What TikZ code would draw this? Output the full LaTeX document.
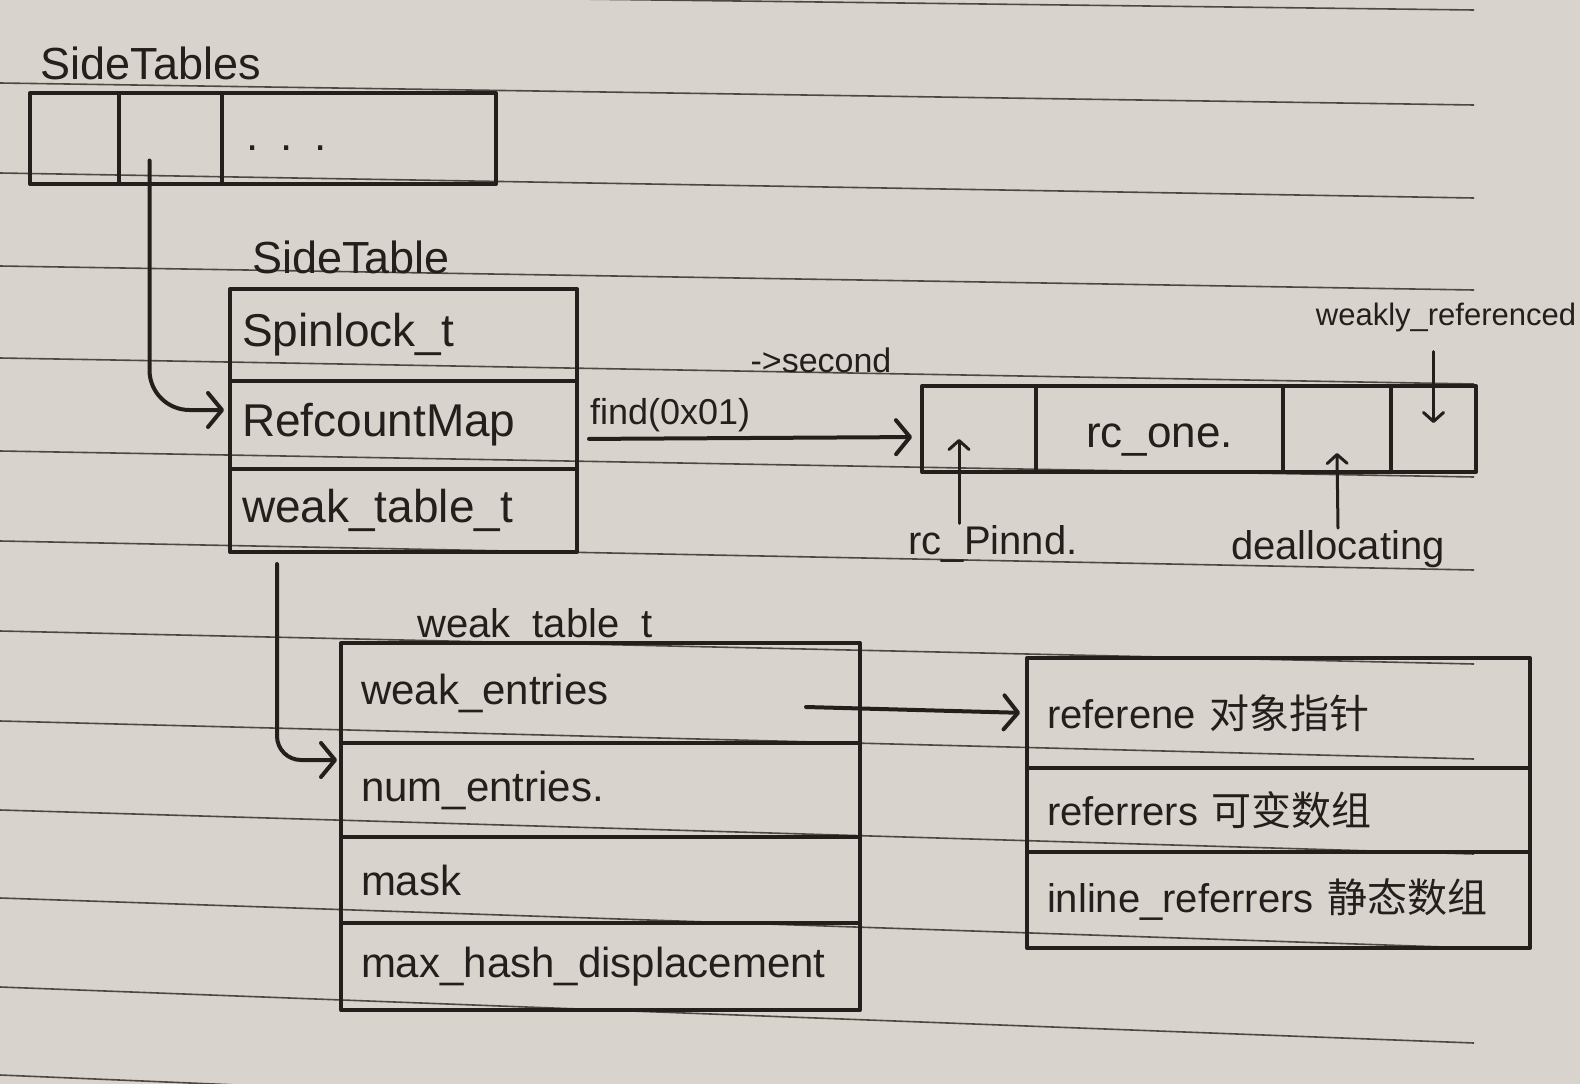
\documentclass[tikz,border=0pt]{standalone}
\usepackage{fontspec}
\setmainfont{Liberation Sans}
\newfontfamily\cjk{Noto Sans CJK SC}
\usetikzlibrary{arrows.meta,positioning}

\definecolor{paper}{RGB}{216,212,205}
\definecolor{ink}{RGB}{36,31,28}
\definecolor{ruling}{RGB}{78,72,66}

\tikzset{
    pen/.style={draw=ink, line width=4pt, line cap=round, line join=round},
    hand/.style={font=\fontsize{#1}{#1}\selectfont, text=ink, inner sep=2pt},
    slot/.style={pen, rectangle, inner ysep=0pt, outer sep=0pt, align=left, text=ink},
    side field/.style={slot, hand=46, text width=323pt, inner xsep=12pt},
    weak field/.style={slot, hand=42, text width=479pt, inner xsep=20pt},
    entry field/.style={slot, hand=40, text width=463pt, inner xsep=20pt},
    rc cell/.style={slot, minimum height=86pt},
    link/.style={pen, -{Straight Barb[round, length=14pt, width=34pt, line width=4pt]}},
    poke/.style={pen, line width=3pt, -{Straight Barb[round, length=9pt, width=20pt, line width=3pt]}},
}

\begin{document}
\begin{tikzpicture}[x=1pt, y=-1pt]
    \useasboundingbox (0,0) rectangle (1580,1084);
    \fill[paper] (0,0) rectangle (1580,1084);
    \foreach \yl/\yr in {-8/10, 83/105, 173/198, 266/290, 358/384, 451/477, 541/570, 631/664, 721/759, 810/854, 898/948, 987/1043, 1075/1137}
        \draw[ruling, line width=1.6pt] (0,\yl) -- (1474,\yr);

    \node[hand=45] (tables name) at (151,63) {SideTables};
    \node[slot, minimum width=89pt, minimum height=91pt, anchor=north west] (t1) at (30,93) {};
    \node[slot, minimum width=103pt, minimum height=91pt, right=0pt of t1] (t2) {};
    \node[slot, hand=44, text width=226pt, inner xsep=24pt, minimum height=91pt, right=0pt of t2] (t3) {\raisebox{-12pt}[0pt][0pt]{. . .}};

    \node[hand=45] (table name) at (351,257) {SideTable};
    \node[side field, minimum height=92pt, anchor=north west] (spin) at (230,289) {Spinlock\_t};
    \node[side field, minimum height=88pt, below=0pt of spin] (refmap) {RefcountMap};
    \node[side field, minimum height=83pt, below=0pt of refmap] (weak) {weak\_table\_t};
    \draw[link, rounded corners=40pt, shorten >=6pt] ([xshift=-21pt,yshift=-22pt]t2.center) |- ([yshift=15pt]refmap.west);

    \node[rc cell, minimum width=114pt, anchor=north west] (pin cell) at (922,386) {};
    \node[rc cell, hand=44, minimum width=247pt, right=0pt of pin cell] (one cell) {\raisebox{-18pt}[0pt][0pt]{rc\_one.}};
    \node[rc cell, minimum width=108pt, right=0pt of one cell] (deal cell) {};
    \node[rc cell, minimum width=85pt, right=0pt of deal cell] (weak cell) {};

    \draw[link, shorten <=12pt, shorten >=10pt] ([yshift=-14pt]refmap.east) -- node[hand=36, above=3pt, pos=0.27] (find) {find(0x01)} ([yshift=-8pt]pin cell.west);
    \node[hand=34] (second) at (821,360) {->second};

    \node[hand=40] (pinned) at (993,544) {rc\_Pinnd.};
    \node[hand=40] (dealloc) at (1338,549) {deallocating};
    \node[hand=31] (weakly) at (1446,317) {weakly\_referenced};
    \draw[poke] ([xshift=-34pt]pinned.north) -- ([xshift=-20pt,yshift=-10pt]pin cell.center);
    \draw[poke] (dealloc.north) -- ([yshift=-24pt]deal cell.center);
    \draw[poke, shorten <=18pt] (weakly.south -| weak cell.center) -- ([yshift=6pt]weak cell.center);

    \node[hand=40] (weak name) at (535,627) {weak\_table\_t};
    \node[weak field, minimum height=100pt, anchor=north west] (entries) at (341,643) {weak\_entries};
    \node[weak field, minimum height=94pt, below=0pt of entries] (num) {num\_entries.};
    \node[weak field, minimum height=86pt, below=0pt of num] (mask) {mask};
    \node[weak field, minimum height=87pt, below=0pt of mask] (maxhash) {max\_hash\_displacement};
    \draw[link, rounded corners=24pt, shorten >=4pt] ([xshift=47pt,yshift=-12pt]weak.south west) |- ([yshift=-17pt]entries.south west);

    \node[entry field, minimum height=110pt, anchor=north west] (referent) at (1027,658) {referene {\cjk 对象指针}};
    \node[entry field, minimum height=84pt, below=0pt of referent] (referrers) {referrers {\cjk 可变数组}};
    \node[entry field, minimum height=96pt, below=0pt of referrers] (inline) {inline\_referrers {\cjk 静态数组}};
    \draw[link, shorten >=7pt] ([xshift=-54pt,yshift=-14pt]entries.east) -- (referent.west);
\end{tikzpicture}
\end{document}
